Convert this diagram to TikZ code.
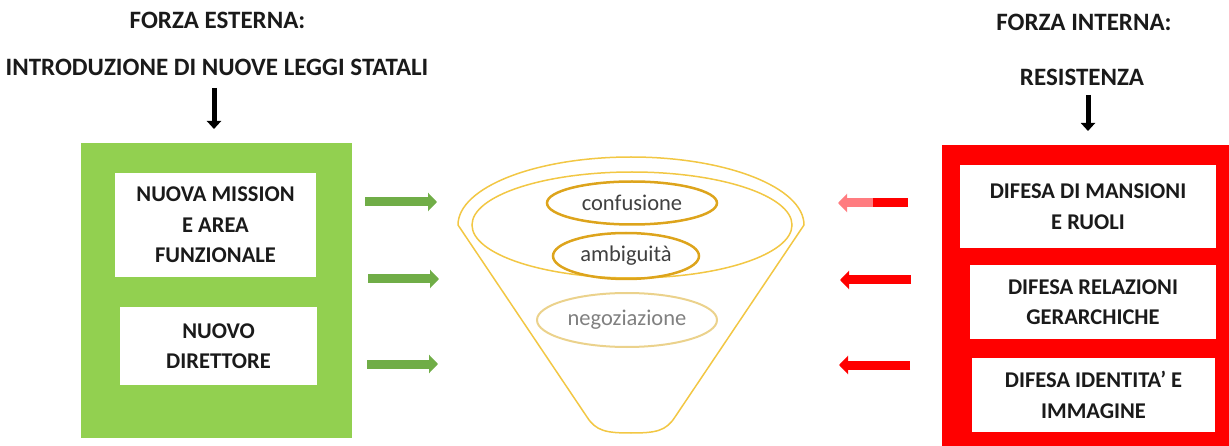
\documentclass[tikz,border=0pt]{standalone}
\usepackage{fontspec}
\setmainfont{Carlito}
\usetikzlibrary{arrows.meta,shapes.geometric}
\definecolor{leafgreen}{HTML}{92D050}
\definecolor{arrowgreen}{HTML}{70AD47}
\definecolor{alarmred}{HTML}{FF0000}
\definecolor{palered}{HTML}{FF7C80}
\definecolor{funnelgold}{HTML}{F2C744}
\definecolor{ringgold}{HTML}{DDA41C}
\definecolor{fadedgold}{HTML}{EBD28C}
\definecolor{inktext}{HTML}{1A1A1A}
\definecolor{softtext}{HTML}{404040}
\definecolor{greytext}{HTML}{808080}

\begin{document}
\begin{tikzpicture}[x=1pt,y=-1pt,
  heading/.style={font=\fontsize{25}{29}\selectfont\bfseries, text=inktext, inner sep=0pt},
  panel/.style={draw=none, inner sep=0pt},
  whitebox/.style={fill=white, draw=none, inner sep=0pt, align=center,
    font=\fontsize{22.5}{30.5}\selectfont\bfseries, text=inktext},
  stage/.style={ellipse, inner sep=0pt, font=\fontsize{22.5}{26}\selectfont},
  blockarrow/.style={line width=9pt, -{Triangle[width=18pt,length=9pt]}},
  downarrow/.style={line width=5pt, black, -{Triangle[width=14pt,length=8pt]}}
]
\useasboundingbox (0,0) rectangle (1229,446);

% headings
\node[heading] (extA) at (217.5,20) {FORZA ESTERNA:};
\node[heading] (extB) at (217,67.5) {INTRODUZIONE DI NUOVE LEGGI STATALI};
\node[heading] (intA) at (1084,22) {FORZA INTERNA:};
\node[heading] (intB) at (1082,77) {RESISTENZA};

% external force panel
\node[panel, fill=leafgreen, minimum width=271pt, minimum height=295pt] (extpanel) at (216.5,290.5) {};
\node[whitebox, minimum width=201pt, minimum height=104pt] (mission) at (215.5,225) {NUOVA MISSION\\E AREA\\FUNZIONALE};
\node[whitebox, minimum width=197pt, minimum height=78pt] (director) at (218.5,346) {NUOVO\\DIRETTORE};

% internal force panel
\node[panel, fill=alarmred, minimum width=287pt, minimum height=301pt] (intpanel) at (1085.5,295.5) {};
\node[whitebox, minimum width=256pt, minimum height=83pt] (roles) at (1088,206.5) {DIFESA DI MANSIONI\\E RUOLI};
\node[whitebox, minimum width=246pt, minimum height=74pt] (hierarchy) at (1093,302) {DIFESA RELAZIONI\\GERARCHICHE};
\node[whitebox, minimum width=243pt, minimum height=74pt] (identity) at (1093.5,395) {DIFESA IDENTITA’ E\\IMMAGINE};

% downward arrows
\coordinate (extTop) at (214,88);
\coordinate (extEnd) at (214,129);
\coordinate (intTop) at (1088,95);
\coordinate (intEnd) at (1088,131);
\draw[downarrow] (extTop) -- (extEnd);
\draw[downarrow] (intTop) -- (intEnd);

% funnel
\draw[funnelgold, line width=1.5pt, line join=round]
  (458,225) arc[start angle=180, end angle=360, x radius=173, y radius=68]
  -- (675,417) .. controls (666,431) and (656,433) .. (631,433)
  .. controls (606,433) and (596,431) .. (587,417) -- cycle;
\draw[funnelgold, line width=1.5pt] (632,225) ellipse[x radius=160, y radius=53];

\node[stage, draw=ringgold, line width=2.5pt, minimum width=170pt, minimum height=43pt, text=softtext] (confusion) at (632,203) {confusione};
\node[stage, draw=ringgold, line width=2.5pt, minimum width=146pt, minimum height=46pt, text=softtext] (ambiguity) at (626,256) {ambiguità};
\node[stage, draw=fadedgold, line width=2pt, minimum width=180pt, minimum height=54pt, text=greytext] (negotiation) at (627,320) {negoziazione};

% green arrows
\coordinate (g1a) at (365,202); \coordinate (g1b) at (437,202);
\coordinate (g2a) at (368,279); \coordinate (g2b) at (439,279);
\coordinate (g3a) at (367,364); \coordinate (g3b) at (438,364);
\draw[blockarrow, arrowgreen] (g1a) -- (g1b);
\draw[blockarrow, arrowgreen] (g2a) -- (g2b);
\draw[blockarrow, arrowgreen] (g3a) -- (g3b);

% red arrows
\coordinate (r1a) at (908,203); \coordinate (r1m) at (873,203); \coordinate (r1b) at (838,203);
\coordinate (r2a) at (911,280); \coordinate (r2b) at (840,280);
\coordinate (r3a) at (910,365); \coordinate (r3b) at (839,365);
\draw[blockarrow, palered] (r1a) -- (r1b);
\draw[line width=9pt, alarmred] (r1a) -- (r1m);
\draw[blockarrow, alarmred] (r2a) -- (r2b);
\draw[blockarrow, alarmred] (r3a) -- (r3b);
\end{tikzpicture}
\end{document}
